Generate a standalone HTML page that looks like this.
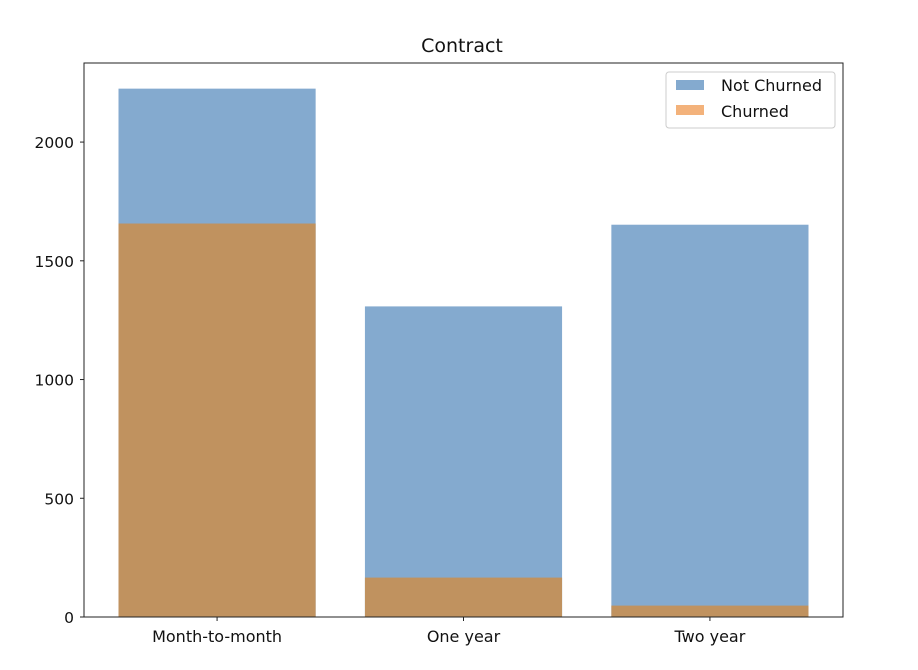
<!DOCTYPE html>
<html><head><meta charset="utf-8"><style>
body{margin:0;background:#fff;}
svg{display:block;font-family:"DejaVu Sans","Liberation Sans",sans-serif;}
</style></head><body>
<svg id="chart" width="918" height="670">
<text x="462" y="52" text-anchor="middle" font-size="19" fill="#111">Contract</text>
<g id="bars"></g>
<rect x="84" y="63" width="759" height="554" fill="none" stroke="#222" stroke-width="1"/>
<g id="axes"></g>
<g>
<rect x="666" y="72" width="169" height="56" rx="3" fill="#fff" fill-opacity="0.8" stroke="#ccc"/>
<rect x="676" y="80" width="28" height="10" fill="#84aacf"/>
<text x="721" y="91" font-size="16" fill="#111">Not Churned</text>
<rect x="676" y="105" width="28" height="10" fill="#f3b27b"/>
<text x="721" y="117" font-size="16" fill="#111">Churned</text>
</g>
</svg>
<script>
const categories = ["Month-to-month","One year","Two year"];
const notChurned = [2225, 1308, 1652];
const churned = [1657, 166, 48];
const yTicks = [0, 500, 1000, 1500, 2000];

const NS="http://www.w3.org/2000/svg";
const x0=84, x1=843, yTop=63, yBot=617;
const xMin=-0.54, xMax=categories.length-1+0.54;
const yMax=2333;
function xs(v){return x0+(v-xMin)/(xMax-xMin)*(x1-x0);}
function ys(v){return yBot-v/yMax*(yBot-yTop);}
const bars=document.getElementById('bars');
const axes=document.getElementById('axes');
function mk(tag,attrs,parent){const e=document.createElementNS(NS,tag);for(const k in attrs)e.setAttribute(k,attrs[k]);parent.appendChild(e);return e;}
const bw=(xs(0.8)-xs(0));
categories.forEach((c,i)=>{
  const b=mk('rect',{x:xs(i)-bw/2,y:ys(notChurned[i]),width:bw,height:ys(0)-ys(notChurned[i]),fill:'#84aacf'},bars);
  
  
  const o=mk('rect',{x:xs(i)-bw/2,y:ys(churned[i]),width:bw,height:ys(0)-ys(churned[i]),fill:'#c0925f'},bars);
  
  
  const t=mk('line',{x1:xs(i),x2:xs(i),y1:yBot,y2:yBot+4,stroke:'#222'},axes);
  
  
  const l=mk('text',{x:xs(i),y:yBot+25,'text-anchor':'middle','font-size':16,fill:'#111'},axes);
  l.textContent=c;
  
  
});
yTicks.forEach(v=>{
  const t=mk('line',{x1:x0-4,x2:x0,y1:ys(v),y2:ys(v),stroke:'#222'},axes);
  
  
  const l=mk('text',{x:x0-10,y:ys(v)+6,'text-anchor':'end','font-size':15.5,fill:'#111'},axes);
  l.textContent=v;
  
  
});
</script>
</body></html>
